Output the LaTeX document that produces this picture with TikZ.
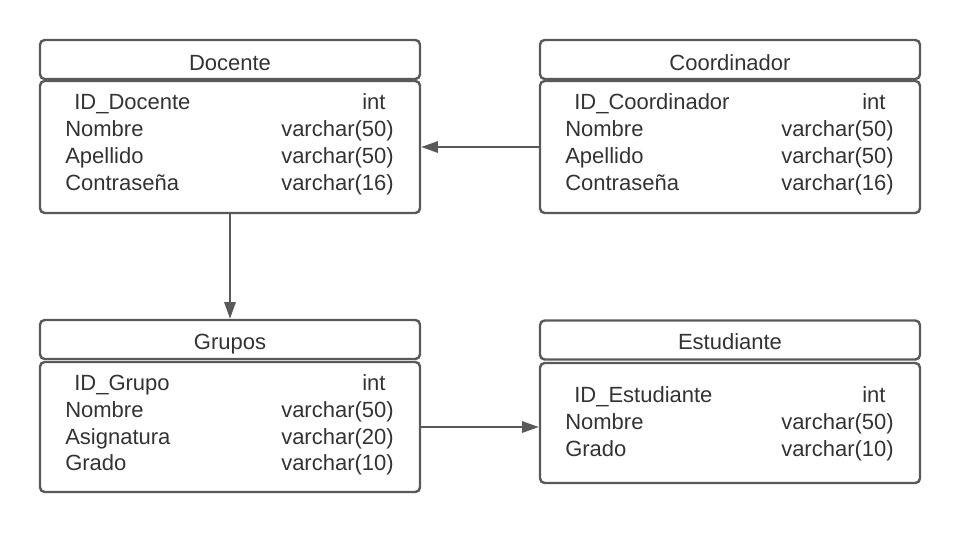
\documentclass[tikz,border=0pt]{standalone}
\usepackage{fontspec}
\setmainfont{Liberation Sans}
\usetikzlibrary{arrows.meta, positioning}
\definecolor{linegray}{RGB}{89,89,89}
\definecolor{textgray}{RGB}{51,51,51}

\begin{document}
\begin{tikzpicture}[x=0.75pt, y=-0.75pt]
	\tikzset{
		head/.style = {draw=linegray, line width=1.8pt, rounded corners=3.5pt, minimum width=285pt, minimum height=29.25pt, inner sep=0pt},
		body/.style = {head, minimum height=#1},
		title/.style = {font={\fontsize{16.5}{20}\selectfont}, text=textgray, anchor=base, inner sep=0pt},
		field/.style = {title, anchor=base west},
		type/.style = {title, anchor=base east},
		arrow/.style = {-{Triangle[length=12.5pt, width=8.5pt]}, draw=linegray, line width=1.5pt},
	}
	\useasboundingbox (0,0) rectangle (960,532);

	% tables
	\node[head] (docente-head) at (230,59.5) {};
	\node[body=99pt] (docente) at (230,147) {};
	\node[head] (coordinador-head) at (730,59.5) {};
	\node[body=99pt] (coordinador) at (730,147) {};
	\node[head] (grupos-head) at (230,339.5) {};
	\node[body=97.5pt] (grupos) at (230,427) {};
	\node[head] (estudiante-head) at (730,340) {};
	\node[body=90pt] (estudiante) at (730,423) {};

	\node[title] (docente-title) at (230,70) {Docente};
	\node[title] (coordinador-title) at (730,70) {Coordinador};
	\node[title] (grupos-title) at (230,349.5) {Grupos};
	\node[title] (estudiante-title) at (730,349.5) {Estudiante};

	% keys
	\node[field] (docente-id) at (74,109.5) {ID\_Docente};
	\node[field] (docente-int) at (362,109.5) {int};
	\node[field] (coordinador-id) at (574,109.5) {ID\_Coordinador};
	\node[field] (coordinador-int) at (862,109.5) {int};
	\node[field] (grupos-id) at (74,390.5) {ID\_Grupo};
	\node[field] (grupos-int) at (362,390.5) {int};
	\node[field] (estudiante-id) at (574,402.5) {ID\_Estudiante};
	\node[field] (estudiante-int) at (862,402.5) {int};

	% fields
	\foreach \f/\t/\y [count=\i] in {Nombre/varchar(50)/136.5, Apellido/varchar(50)/163.5, Contraseña/varchar(16)/190.5}
		{
			\node[field] (docente-f\i) at (65,\y) {\f};
			\node[type] (docente-t\i) at (394,\y) {\t};
			\node[field] (coordinador-f\i) at (565,\y) {\f};
			\node[type] (coordinador-t\i) at (894,\y) {\t};
		}
	\foreach \f/\t/\y [count=\i] in {Nombre/varchar(50)/417, Asignatura/varchar(20)/444, Grado/varchar(10)/470.5}
		{
			\node[field] (grupos-f\i) at (65,\y) {\f};
			\node[type] (grupos-t\i) at (394,\y) {\t};
		}
	\foreach \f/\t/\y [count=\i] in {Nombre/varchar(50)/429.5, Grado/varchar(10)/456}
		{
			\node[field] (estudiante-f\i) at (565,\y) {\f};
			\node[type] (estudiante-t\i) at (894,\y) {\t};
		}

	% relations
	\draw[arrow] (coordinador.west) -- (docente.east);
	\draw[arrow] (docente.south) -- (grupos-head.north);
	\draw[arrow] (grupos.east) -- (grupos.east -| estudiante.west);

\end{tikzpicture}
\end{document}
